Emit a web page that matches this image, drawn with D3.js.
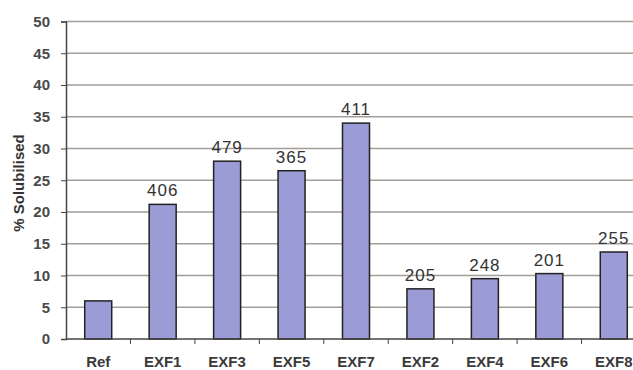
<!DOCTYPE html>
<html><head><meta charset="utf-8">
<script src="https://cdn.jsdelivr.net/npm/d3@7"></script>
<style>body{margin:0;background:#fff}svg{display:block}</style>
</head><body>
<script>
const categories = ["Ref","EXF1","EXF3","EXF5","EXF7","EXF2","EXF4","EXF6","EXF8"];
const values = [6.0,21.2,28.0,26.5,34.0,7.9,9.5,10.3,13.7];
const barLabels = ["","406","479","365","411","205","248","201","255"];
const yTicks = [0,5,10,15,20,25,30,35,40,45,50];

const W=633,H=370;
const svg=d3.select("body").append("svg").attr("width",W).attr("height",H);
const x=d3.scaleBand().domain(categories).range([66,646]).paddingInner(0).paddingOuter(0);
const y=d3.scaleLinear().domain([0,50]).range([339,21.5]);
const font="Liberation Sans, Arial, sans-serif";

// gridlines
svg.append("g").selectAll("line").data(yTicks.filter(d=>d>0)).join("line")
 .attr("x1",66).attr("x2",W).attr("y1",d=>y(d)).attr("y2",d=>y(d))
 .attr("stroke","#a39d98").attr("stroke-width",1.5);

// y axis
const ya=svg.append("g").attr("transform","translate(66,0)")
 .call(d3.axisLeft(y).tickValues(yTicks).tickSize(5).tickPadding(11));
ya.select(".domain").attr("stroke","#444").attr("stroke-width",1.5);
ya.selectAll(".tick line").attr("stroke","#444");
ya.selectAll("text").attr("font-family",font).attr("font-size",15).attr("font-weight","bold").attr("fill","#4a4a4a");

// bars
const bw=27;
svg.append("g").selectAll("rect").data(categories).join("rect")
 .attr("x",(d)=>x(d)+x.bandwidth()/2-bw/2)
 .attr("width",bw)
 .attr("y",(d,i)=>y(values[i]))
 .attr("height",(d,i)=>y(0)-y(values[i]))
 .attr("fill","#9b9bd6").attr("stroke","#222").attr("stroke-width",1.5);

// x axis
const xa=svg.append("g").attr("transform","translate(0,339)");
xa.append("line").attr("x1",66).attr("x2",W).attr("stroke","#444").attr("stroke-width",1.5);
xa.selectAll(".tk").data(categories).join("line").attr("class","tk")
 .attr("x1",d=>x(d)+x.bandwidth()).attr("x2",d=>x(d)+x.bandwidth())
 .attr("y1",0).attr("y2",5).attr("stroke","#444");
xa.selectAll("text").data(categories).join("text")
 .attr("x",d=>x(d)+x.bandwidth()/2).attr("y",28)
 .attr("text-anchor","middle").attr("font-family",font).attr("font-size",15).attr("font-weight","bold").attr("fill","#3a3a3a")
 .text(d=>d);

// value labels
svg.append("g").selectAll("text").data(categories).join("text")
 .attr("x",d=>x(d)+x.bandwidth()/2).attr("y",(d,i)=>y(values[i])-8)
 .attr("text-anchor","middle").attr("font-family",font).attr("font-size",17).attr("letter-spacing",1).attr("fill","#333")
 .text((d,i)=>barLabels[i]);

// y title
svg.append("text").attr("transform","translate(24,183) rotate(-90)")
 .attr("text-anchor","middle").attr("font-family",font).attr("font-size",15).attr("font-weight","bold").attr("fill","#333")
 .text("% Solubilised");
</script>
</body></html>
